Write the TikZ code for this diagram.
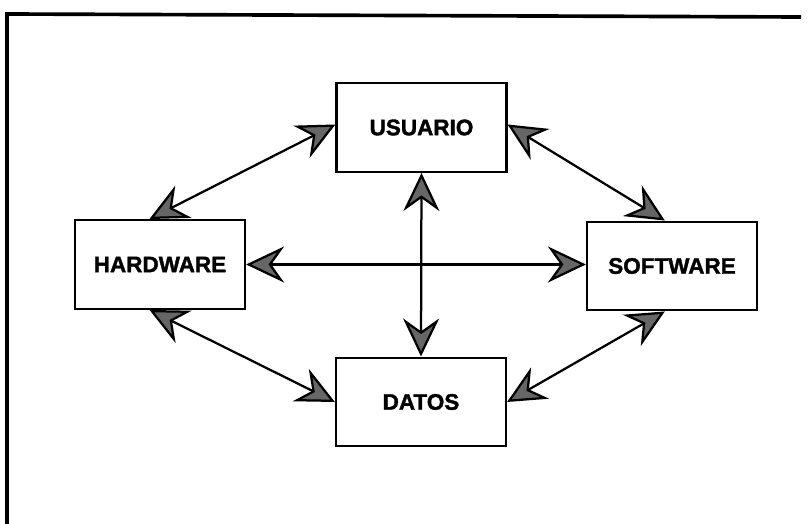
\documentclass[tikz,border=0pt]{standalone}
\usepackage{fontspec}
\setmainfont{Liberation Sans}[BoldFeatures={FakeBold=1.6}]
\usetikzlibrary{arrows.meta, positioning}
\tikzset{
    block/.style={rectangle, minimum width=4.25cm, minimum height=2.22cm, align=center, draw=black, line width=1.5pt, font=\fontsize{16}{19}\selectfont\bfseries},
    link/.style={line width=1.6pt, {Stealth[length=0.95cm, width=0.9cm, inset=0.32cm, fill=black!60]}-{Stealth[length=0.95cm, width=0.9cm, inset=0.32cm, fill=black!60]}}
}

\begin{document}
\begin{tikzpicture}[x=0.025cm, y=-0.025cm]
    \useasboundingbox (0,0) rectangle (812,524);
    % Outer frame
    \draw[line width=2.6pt] (7,524) -- (7,14) -- (801,17);

    % Blocks
    \node[block] (usu) at (421.5,127.5) {USUARIO};
    \node[block] (hw) at (160,264.5) {HARDWARE};
    \node[block] (sw) at (672,266) {SOFTWARE};
    \node[block] (dat) at (421,402) {DATOS};

    % Links between blocks
    \draw[link] (usu.178) -- (hw.103);
    \draw[link] (usu.2) -- (sw.99);
    \draw[link] (hw.east) -- (hw.east -| sw.west);
    \draw[link] (usu.south) -- (dat.north);
    \draw[link] (hw.257) -- (dat.west);
    \draw[link] (sw.261) -- (dat.east);
\end{tikzpicture}
\end{document}
